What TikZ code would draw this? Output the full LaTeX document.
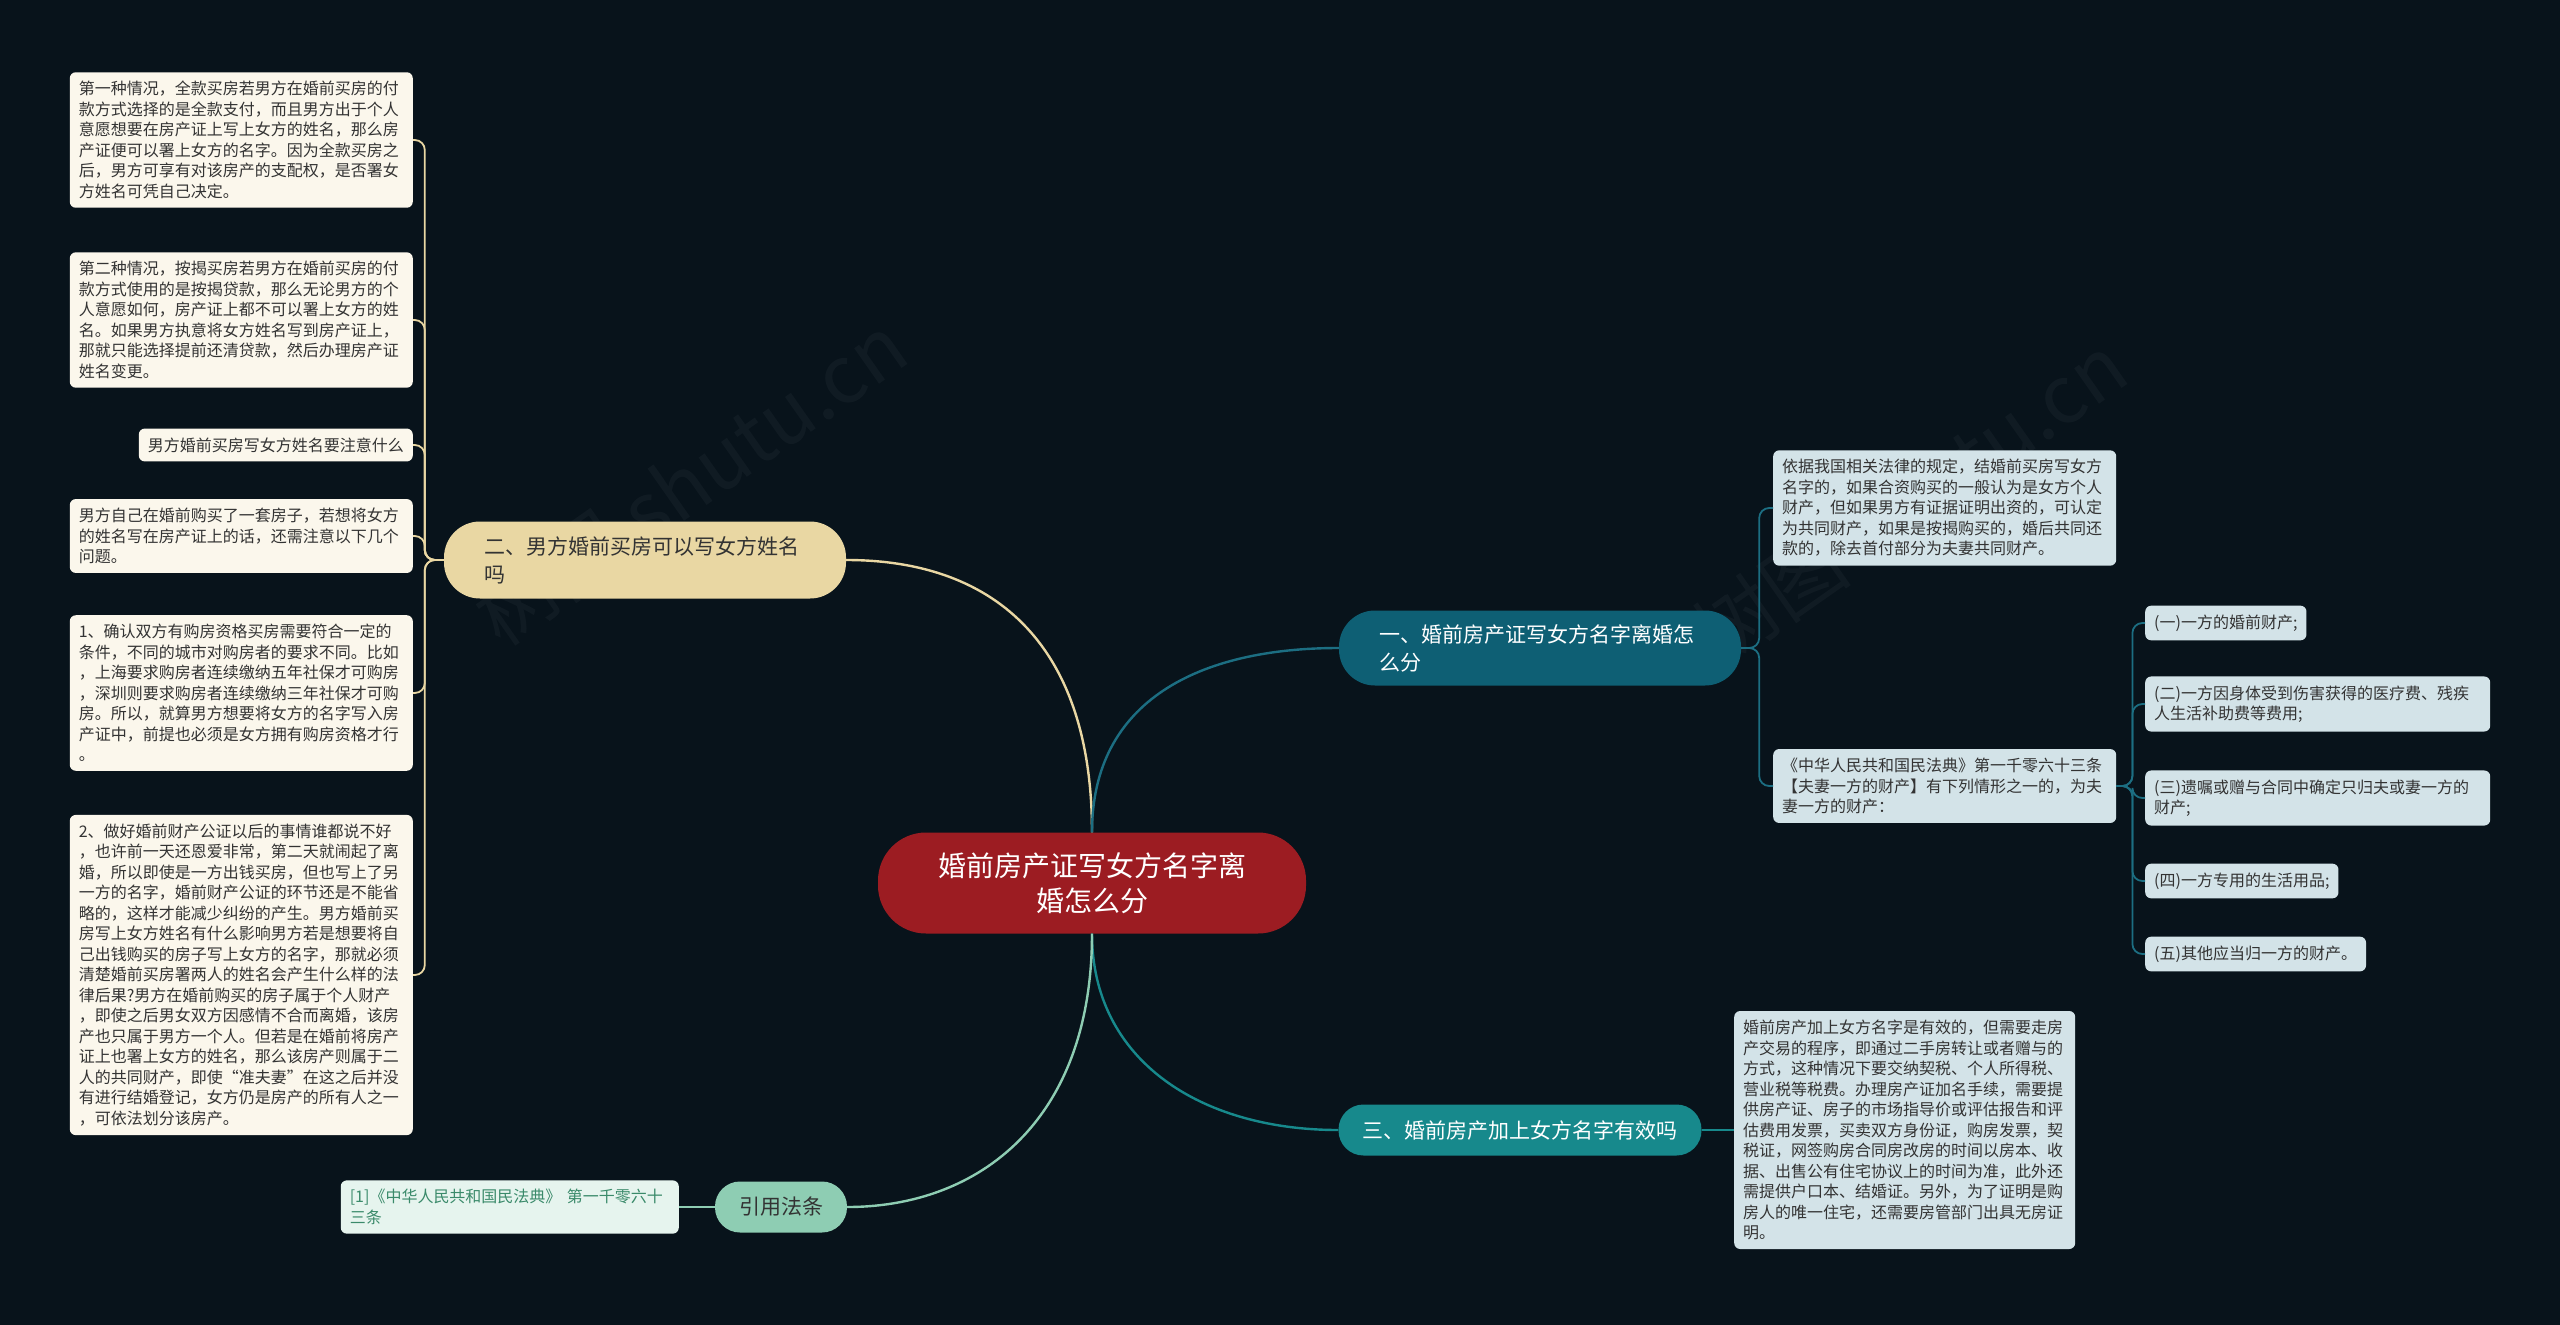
\documentclass[tikz,border=0pt]{standalone}
\usepackage{fontspec}
\setmainfont{Noto Sans CJK SC}
\definecolor{bgc}{HTML}{08131B}
\definecolor{cream}{HTML}{FBF7EC}
\definecolor{beige}{HTML}{E9D7A3}
\definecolor{tealdark}{HTML}{0E5F74}
\definecolor{teallink}{HTML}{1C6E82}
\definecolor{bluegray}{HTML}{D3E3E8}
\definecolor{tealmid}{HTML}{17898C}
\definecolor{mint}{HTML}{8ECDB3}
\definecolor{mintleaf}{HTML}{E6F4EE}
\definecolor{mintText}{HTML}{3A8A6A}
\definecolor{centerred}{HTML}{9C1C22}
\definecolor{leaftext}{HTML}{333333}
\tikzset{
  leafbox/.style={draw=none, rounded corners=6pt, inner xsep=9pt, inner ysep=9pt, align=left, text=leaftext, font=\fontsize{16}{20.5}\selectfont},
  leftleaf/.style={leafbox, fill=cream, anchor=east},
  rightleaf/.style={leafbox, fill=bluegray, anchor=west},
  branchbox/.style={rounded corners=36pt, align=left, font=\fontsize{21}{28}\selectfont, minimum height=51pt},
  linkbeige/.style={draw=beige, line width=2.4pt},
  linkteal/.style={draw=teallink, line width=2.4pt},
  linkmid/.style={draw=tealmid, line width=2.4pt},
  linkmint/.style={draw=mint, line width=2.4pt},
  wmark/.style={text=white, opacity=0.035, font=\fontsize{80}{80}\selectfont, rotate=35}
}
\begin{document}
\begin{tikzpicture}[x=1pt,y=-1pt]
\useasboundingbox (0,0) rectangle (2560,1325);
\fill[bgc] (0,0) rectangle (2560,1325);
% watermarks
\node[wmark] (wm1) at (690,480) {树图 shutu.cn};
\node[wmark] (wm2) at (1910,500) {树图 shutu.cn};

% center
\node[fill=centerred, rounded corners=48pt, minimum width=428pt, minimum height=101pt, align=center, text=white, font=\fontsize{28}{35}\selectfont] (c) at (1092,883) {婚前房产证写女方名字离\\婚怎么分};

% branches
\node[branchbox, fill=tealdark, text=white, text width=322pt, inner xsep=40pt, minimum height=75pt] (b1) at (1540,648) {一、婚前房产证写女方名字离婚怎\\么分};
\node[branchbox, fill=beige, text=leaftext, text width=322pt, inner xsep=40pt, minimum height=77pt] (b2) at (645,560) {二、男方婚前买房可以写女方姓名\\吗};
\node[branchbox, fill=tealmid, text=white, inner xsep=24pt, rounded corners=25pt] (b3) at (1520,1130) {三、婚前房产加上女方名字有效吗};
\node[branchbox, fill=mint, text=leaftext, inner xsep=24pt, rounded corners=25pt] (b4) at (781,1207) {引用法条};

% left leaves
\node[leftleaf, text width=325pt] (l1) at (413,140) {第一种情况，全款买房若男方在婚前买房的付\\款方式选择的是全款支付，而且男方出于个人\\意愿想要在房产证上写上女方的姓名，那么房\\产证便可以署上女方的名字。因为全款买房之\\后，男方可享有对该房产的支配权，是否署女\\方姓名可凭自己决定。};
\node[leftleaf, text width=325pt] (l2) at (413,320) {第二种情况，按揭买房若男方在婚前买房的付\\款方式使用的是按揭贷款，那么无论男方的个\\人意愿如何，房产证上都不可以署上女方的姓\\名。如果男方执意将女方姓名写到房产证上，\\那就只能选择提前还清贷款，然后办理房产证\\姓名变更。};
\node[leftleaf] (l3) at (413,445) {男方婚前买房写女方姓名要注意什么};
\node[leftleaf, text width=325pt] (l4) at (413,536) {男方自己在婚前购买了一套房子，若想将女方\\的姓名写在房产证上的话，还需注意以下几个\\问题。};
\node[leftleaf, text width=325pt] (l5) at (413,693) {1、确认双方有购房资格买房需要符合一定的\\条件，不同的城市对购房者的要求不同。比如\\，上海要求购房者连续缴纳五年社保才可购房\\，深圳则要求购房者连续缴纳三年社保才可购\\房。所以，就算男方想要将女方的名字写入房\\产证中，前提也必须是女方拥有购房资格才行\\。};
\node[leftleaf, text width=325pt] (l6) at (413,975) {2、做好婚前财产公证以后的事情谁都说不好\\，也许前一天还恩爱非常，第二天就闹起了离\\婚，所以即使是一方出钱买房，但也写上了另\\一方的名字，婚前财产公证的环节还是不能省\\略的，这样才能减少纠纷的产生。男方婚前买\\房写上女方姓名有什么影响男方若是想要将自\\己出钱购买的房子写上女方的名字，那就必须\\清楚婚前买房署两人的姓名会产生什么样的法\\律后果?男方在婚前购买的房子属于个人财产\\，即使之后男女双方因感情不合而离婚，该房\\产也只属于男方一个人。但若是在婚前将房产\\证上也署上女方的姓名，那么该房产则属于二\\人的共同财产，即使“准夫妻”在这之后并没\\有进行结婚登记，女方仍是房产的所有人之一\\，可依法划分该房产。};

% reference leaf
\node[leafbox, fill=mintleaf, text=mintText, anchor=east, text width=320pt] (ref) at (679,1207) {[1]《中华人民共和国民法典》 第一千零六十\\三条};

% right leaves
\node[rightleaf, text width=325pt] (r1) at (1773,508) {依据我国相关法律的规定，结婚前买房写女方\\名字的，如果合资购买的一般认为是女方个人\\财产，但如果男方有证据证明出资的，可认定\\为共同财产，如果是按揭购买的，婚后共同还\\款的，除去首付部分为夫妻共同财产。};
\node[rightleaf, text width=325pt] (r2) at (1773,786) {《中华人民共和国民法典》第一千零六十三条\\【夫妻一方的财产】有下列情形之一的，为夫\\妻一方的财产：};
\node[rightleaf] (k1) at (2145,623) {(一)一方的婚前财产;};
\node[rightleaf, text width=327pt] (k2) at (2145,704) {(二)一方因身体受到伤害获得的医疗费、残疾\\人生活补助费等费用;};
\node[rightleaf, text width=327pt] (k3) at (2145,798) {(三)遗嘱或赠与合同中确定只归夫或妻一方的\\财产;};
\node[rightleaf] (k4) at (2145,881) {(四)一方专用的生活用品;};
\node[rightleaf] (k5) at (2145,954) {(五)其他应当归一方的财产。};
\node[rightleaf, text width=323pt] (r3) at (1734,1130) {婚前房产加上女方名字是有效的，但需要走房\\产交易的程序，即通过二手房转让或者赠与的\\方式，这种情况下要交纳契税、个人所得税、\\营业税等税费。办理房产证加名手续，需要提\\供房产证、房子的市场指导价或评估报告和评\\估费用发票，买卖双方身份证，购房发票，契\\税证，网签购房合同房改房的时间以房本、收\\据、出售公有住宅协议上的时间为准，此外还\\需提供户口本、结婚证。另外，为了证明是购\\房人的唯一住宅，还需要房管部门出具无房证\\明。};

% main connectors
\draw[linkbeige] (c.north) .. controls (1092,650) and (1000,560) .. (b2.east);
\draw[linkteal] (c.north) .. controls (1092,700) and (1200,648) .. (b1.west);
\draw[linkmid] (c.south) .. controls (1092,1060) and (1200,1130) .. (b3.west);
\draw[linkmint] (c.south) .. controls (1092,1120) and (980,1207) .. (b4.east);

% left leaf connectors
\foreach \n in {l1,l2,l3,l4,l5,l6}
  \draw[linkbeige, line width=1.8pt, rounded corners=10pt] (b2.west) -- ++(-19,0) |- (\n.east);
% right connectors
\foreach \n in {r1,r2}
  \draw[linkteal, line width=1.8pt, rounded corners=10pt] (b1.east) -- ++(18,0) |- (\n.west);
\foreach \n in {k1,k2,k3,k4,k5}
  \draw[linkteal, line width=1.8pt, rounded corners=10pt] (r2.east) -- ++(16,0) |- (\n.west);
\draw[linkmid] (b3.east) -- (r3.west);
\draw[linkmint] (b4.west) -- (ref.east);
\end{tikzpicture}
\end{document}
